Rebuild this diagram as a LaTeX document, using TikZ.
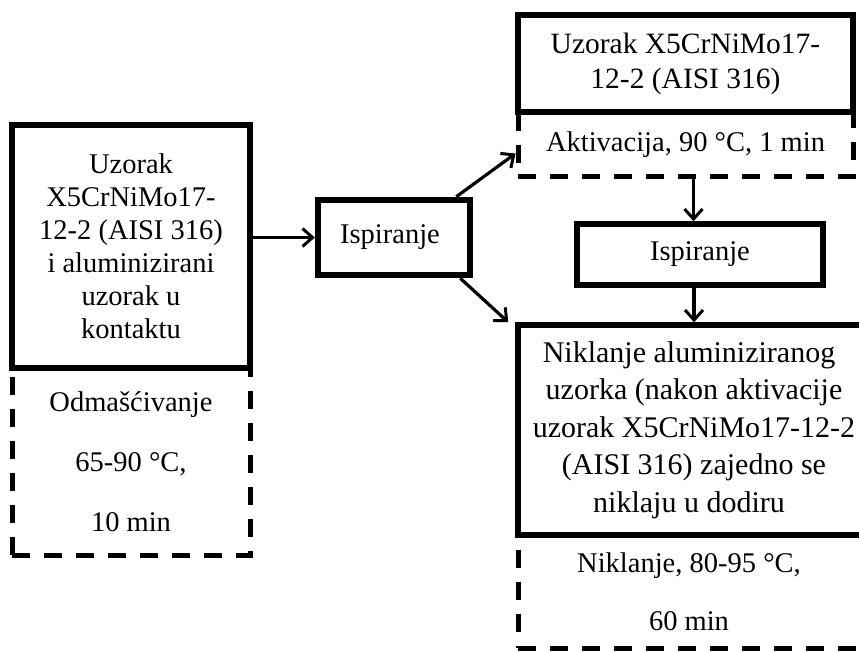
\documentclass[tikz,border=0pt]{standalone}
\usepackage{fontspec}
\setmainfont{Liberation Serif}
\usetikzlibrary{arrows.meta,positioning}

\begin{document}
\begin{tikzpicture}[x=1pt, y=-1pt, >={Straight Barb[length=10pt,width=18pt,line width=3pt]},
    font=\fontsize{28.5}{33}\selectfont,
    solidbox/.style={draw, line width=5.5pt, inner sep=0pt, align=center},
    dashbox/.style={draw, line width=5pt, dash pattern=on 18pt off 14pt, inner sep=0pt, align=center},
    arr/.style={->, line width=3.2pt}]
    \useasboundingbox (0,0) rectangle (859,652);
    \clip (0,0) rectangle (859,652);
    % left column
    \node[dashbox, minimum width=238pt, minimum height=187pt] (odmas) at (131,461.5)
      {Odmašćivanje\\[27pt]65-90 °C,\\[27pt]10 min};
    \node[solidbox, fill=white, minimum width=238pt, minimum height=243pt] (uzorak) at (131,246.5)
      {Uzorak\\X5CrNiMo17-\\12-2 (AISI 316)\\i aluminizirani\\uzorak u\\kontaktu};
    \node[solidbox, line width=6.5pt, minimum width=152pt, minimum height=75pt] (ispir) at (394,237.5)
      {\hspace*{-8pt}Ispiranje};
    % right column
    \node[dashbox, minimum width=335pt, minimum height=65pt] (aktiv) at (685.5,144.5)
      {Aktivacija, 90 °C, 1 min};
    \node[solidbox, fill=white, font=\fontsize{29.5}{35}\selectfont, minimum width=335pt,
      minimum height=97pt] (uzorakb) at (685.5,63.5)
      {Uzorak X5CrNiMo17-\\12-2 (AISI 316)};
    \node[solidbox, minimum width=246pt, minimum height=61pt] (ispirb) at (700,254.5) {Ispiranje};
    \node[dashbox, minimum width=352pt, minimum height=113pt] (niklb) at (694,591.5)
      {\rule{0pt}{10pt}Niklanje, 80-95 °C,\hspace*{10pt}\\[25pt]60 min\hspace*{10pt}};
    \node[solidbox, fill=white, font=\fontsize{30}{37.5}\selectfont, minimum width=352pt,
      minimum height=210pt] (nikl) at (694,430)
      {Niklanje aluminiziranog\hspace*{10pt}\\uzorka (nakon aktivacije\hspace*{10pt}\\uzorak X5CrNiMo17-12-2\hspace*{10pt}\\(AISI 316) zajedno se\hspace*{10pt}\\niklaju u dodiru\hspace*{10pt}};
    % arrows
    \draw[arr] (uzorak.east |- ispir) -- (ispir.west);
    \draw[arr] ([xshift=-17pt]ispir.north east) -- ([yshift=-9pt]aktiv.west);
    \draw[arr] ([xshift=-13pt]ispir.south east) -- ([xshift=-7pt]nikl.north west);
    \draw[arr] ([xshift=8pt]aktiv.south) -- ([xshift=8pt]aktiv.south |- ispirb.north);
    \draw[arr] ([xshift=-6pt]ispirb.south) -- ([xshift=-6pt]ispirb.south |- nikl.north);
\end{tikzpicture}
\end{document}
